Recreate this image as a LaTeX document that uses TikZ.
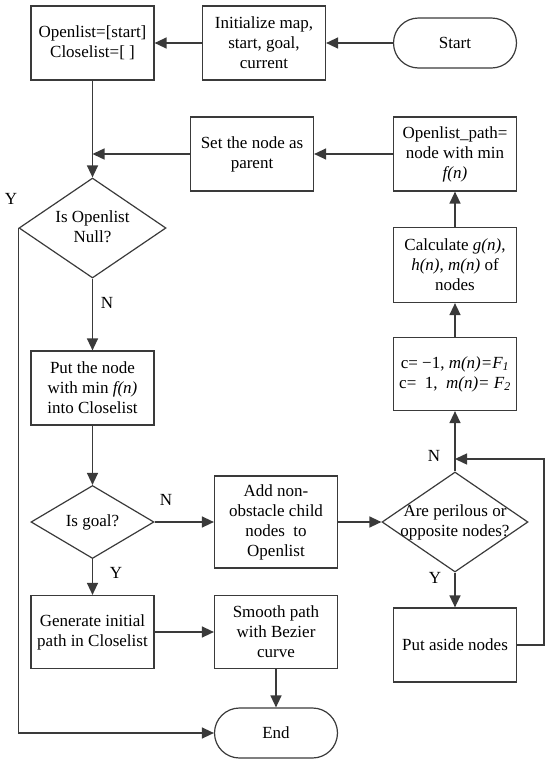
\documentclass[tikz,border=0pt]{standalone}
\usepackage{fontspec}
\setmainfont{Liberation Serif}
\usetikzlibrary{arrows.meta,shapes.geometric,calc}
\definecolor{linegray}{HTML}{3A3A3A}
\begin{document}
\begin{tikzpicture}[x=1pt,y=-1pt,
  txt/.style={font=\fontsize{17}{20}\selectfont, text=black},
  box/.style={txt, draw=linegray, line width=1.2pt, rectangle, minimum width=123pt, align=center, inner sep=2pt},
  term/.style={txt, draw=linegray, line width=1.2pt, rectangle, rounded corners=25pt, minimum width=123pt, minimum height=50pt, align=center},
  dia/.style={txt, draw=linegray, line width=1.2pt, diamond, inner sep=0pt, align=center},
  lbl/.style={txt, inner sep=0pt},
  arr/.style={draw=linegray, line width=1.4pt, -{Triangle[length=12pt,width=11pt]}},
  ln/.style={draw=linegray, line width=1.4pt}]
\useasboundingbox (0,0) rectangle (550,764);

\node[box, minimum height=74pt] (open) at (92.5,43) {Openlist=[start]\\Closelist=[ ]};
\node[box, minimum height=74pt] (init) at (264,43) {Initialize map,\\start, goal,\\current};
\node[term] (start) at (455,43) {Start};

\node[box, minimum height=74pt] (set) at (252,154) {Set the node as\\parent};
\node[box, minimum height=74pt] (oppath) at (455,154) {Openlist\_path=\\node with min\\\textit{f(n)}};

\node[dia, minimum width=147pt, minimum height=88pt] (isnull) at (92.5,228) {\makebox[60pt]{\begin{tabular}{@{}c@{}}Is Openlist\\Null?\end{tabular}}};

\node[box, minimum height=75pt] (calc) at (455,265) {Calculate \textit{g(n)},\\\textit{h(n)}, \textit{m(n)} of\\nodes};
\node[box, minimum height=73pt] (cbox) at (455,374) {c= −1, \textit{m(n)=F\textsubscript{1}}\\c= \ 1, \ \textit{m(n)= F\textsubscript{2}}};

\node[box, minimum height=74pt] (putnode) at (92.5,388) {Put the node\\with min \textit{f(n)}\\into Closelist};

\node[dia, minimum width=123pt, minimum height=73pt] (isgoal) at (92.5,522) {\makebox[50pt]{Is goal?}};
\node[box, minimum height=92pt] (add) at (276,522) {Add non-\\obstacle child\\nodes \ to\\Openlist};
\node[dia, minimum width=146pt, minimum height=98pt] (peril) at (455,522) {\makebox[60pt]{\begin{tabular}{@{}c@{}}Are perilous or\\opposite nodes?\end{tabular}}};

\node[box, minimum height=73pt] (generate) at (92.5,632) {Generate initial\\path in Closelist};
\node[box, minimum height=73pt] (smooth) at (276,632) {Smooth path\\with Bezier\\curve};
\node[box, minimum height=74pt] (aside) at (455,645) {Put aside nodes};

\node[term] (end) at (276,733) {End};

% labels
\node[lbl] (ly1) at (11,199) {Y};
\node[lbl] (ln1) at (107,303) {N};
\node[lbl] (ln2) at (166,500) {N};
\node[lbl] (ly2) at (116,573) {Y};
\node[lbl] (ln3) at (434,456) {N};
\node[lbl] (ly3) at (435,578) {Y};

% connectors
\draw[arr] (start) -- (init);
\draw[arr] (init) -- (open);
\draw[arr] (open) -- (isnull);
\draw[arr] (oppath) -- (set);
\draw[arr] (set.west) -- (set.west -| open.south);
\draw[arr] (isnull) -- (putnode);
\draw[arr] (putnode) -- (isgoal);
\draw[arr] (isgoal) -- (generate);
\draw[arr] (isgoal) -- (add);
\draw[arr] (generate) -- (smooth);
\draw[arr] (smooth) -- (end);
\draw[arr] (isnull.west) -- (isnull.west |- end) -- (end);
\draw[arr] (add) -- (peril);
\draw[arr] (peril) -- (cbox);
\draw[arr] (cbox) -- (calc);
\draw[arr] (calc) -- (oppath);
\draw[arr] (peril) -- (aside);
\coordinate (loopin) at (455,459);
\coordinate (loopc) at (544,459);
\draw[arr] (aside.east) -| (loopc) -- (loopin);
\end{tikzpicture}
\end{document}
